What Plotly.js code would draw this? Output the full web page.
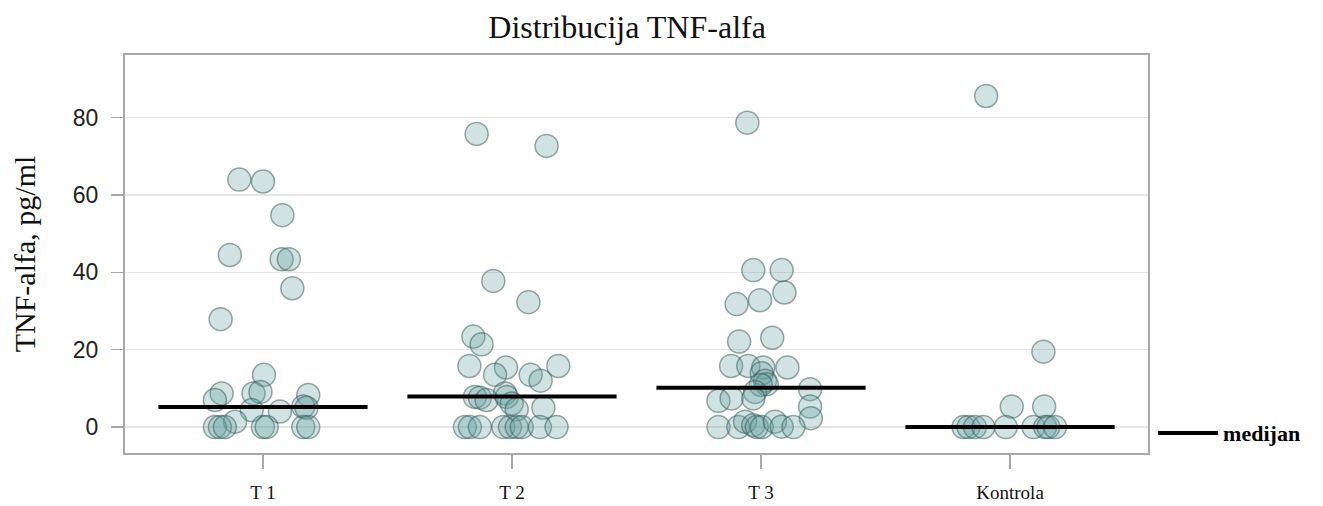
<!DOCTYPE html>
<html>
<head>
<meta charset="utf-8">
<script src="https://cdn.plot.ly/plotly-3.0.1.min.js"></script>
<style>html,body{margin:0;padding:0;background:#fff;}#chart{width:1323px;height:506px;}</style>
</head>
<body>
<div id="chart"></div>
<script>
// Categories and tick labels
var categories = ["T 1", "T 2", "T 3", "Kontrola"];

// TNF-alfa values (pg/ml), with horizontal jitter offsets
var t1Values = [64.0, 63.5, 54.8, 44.5, 43.4, 43.4, 35.9, 27.9, 13.5, 8.7, 7.0, 8.7, 9.1, 8.3, 4.4, 4.0, 5.3, 5.0, 1.4, 0, 0, 0, 0, 0, 0, 0];
var t1Jitter = [-0.095, 0.0, 0.078, -0.133, 0.075, 0.104, 0.118, -0.17, 0.004, -0.166, -0.193, -0.038, -0.01, 0.182, -0.045, 0.068, 0.162, 0.175, -0.112, -0.193, -0.173, -0.153, 0.0, 0.015, 0.162, 0.182];

var t2Values = [75.8, 72.7, 37.8, 32.3, 23.4, 21.4, 15.8, 15.4, 15.8, 13.5, 13.5, 12.0, 7.8, 7.6, 7.0, 8.7, 7.8, 6.1, 4.6, 5.0, 0, 0, 0, 0, 0, 0, 0, 0, 0];
var t2Jitter = [-0.142, 0.139, -0.075, 0.066, -0.155, -0.122, -0.171, -0.024, 0.186, -0.068, 0.075, 0.115, -0.149, -0.129, -0.102, -0.028, -0.021, -0.001, 0.019, 0.126, -0.189, -0.169, -0.129, -0.035, -0.008, 0.019, 0.039, 0.112, 0.179];

var t3Values = [78.7, 40.6, 40.6, 34.8, 31.8, 32.8, 22.1, 23.1, 15.8, 15.8, 15.4, 15.4, 13.9, 12.0, 11.1, 10.9, 9.8, 9.1, 6.8, 7.4, 7.4, 5.3, 2.3, 0, 0, 1.4, 0.5, 0, 0, 1.4, 0.1, 0];
var t3Jitter = [-0.055, -0.031, 0.083, 0.094, -0.098, -0.004, -0.088, 0.045, -0.12, -0.051, 0.009, 0.106, 0.003, 0.016, 0.023, -0.001, 0.197, -0.024, -0.171, -0.118, -0.031, 0.197, 0.2, -0.171, -0.091, -0.064, -0.031, -0.017, 0.003, 0.056, 0.083, 0.13];

var kontrolaValues = [85.6, 19.5, 5.3, 5.3, 0, 0, 0, 0, 0, 0, 0, 0, 0];
var kontrolaJitter = [-0.096, 0.134, 0.007, 0.137, -0.187, -0.167, -0.141, -0.107, -0.017, 0.094, 0.141, 0.154, 0.181];

// Medians
var medians = [5.2, 7.9, 10.2, 0];

var groups = [
  {values: t1Values, jitter: t1Jitter},
  {values: t2Values, jitter: t2Jitter},
  {values: t3Values, jitter: t3Jitter},
  {values: kontrolaValues, jitter: kontrolaJitter}
];

var px = [], py = [];
groups.forEach(function (g, i) {
  g.values.forEach(function (v, j) {
    px.push(i + g.jitter[j]);
    py.push(v);
  });
});

var halfWidth = 0.42;
var mx = [], my = [];
medians.forEach(function (m, i) {
  mx.push(i - halfWidth, i + halfWidth, null);
  my.push(m, m, null);
});

var traces = [
  {
    type: "scatter", mode: "markers", x: px, y: py, showlegend: false, hoverinfo: "y",
    marker: {size: 23, color: "rgba(100,160,158,0.30)", line: {color: "rgba(50,85,85,0.5)", width: 1.5}}
  },
  {
    type: "scatter", mode: "lines", x: mx, y: my, name: "medijan", showlegend: true,
    line: {color: "#000", width: 4}, hoverinfo: "skip"
  }
];

var layout = {
  width: 1323, height: 506,
  margin: {l: 125, r: 175, t: 55, b: 53},
  paper_bgcolor: "#fff", plot_bgcolor: "#fff",
  title: {
    text: "Distribucija TNF-alfa",
    font: {family: "Liberation Serif, Times New Roman, serif", size: 32, color: "#111"},
    x: 0.474, xanchor: "center", y: 0.947, yanchor: "middle", yref: "container"
  },
  xaxis: {
    range: [-0.554, 3.554],
    tickvals: [0, 1, 2, 3], ticktext: categories,
    tickfont: {family: "Liberation Serif, Times New Roman, serif", size: 19, color: "#111"},
    ticks: "outside", ticklen: 14, tickcolor: "#a8a8a8", tickwidth: 1.5,
    ticklabelstandoff: 7,
    showgrid: false, zeroline: false,
    showline: true, linecolor: "#a8a8a8", linewidth: 2, mirror: true
  },
  yaxis: {
    range: [-6.7, 96.2],
    tickvals: [0, 20, 40, 60, 80],
    tickfont: {family: "Liberation Sans, Arial, sans-serif", size: 23, color: "#222"},
    ticks: "outside", ticklen: 12, tickcolor: "#a8a8a8", tickwidth: 1.5,
    ticklabelstandoff: 8,
    showgrid: true, gridcolor: "#e6e6e6", gridwidth: 1.5, zeroline: false,
    showline: true, linecolor: "#a8a8a8", linewidth: 2, mirror: true,
    title: {text: "TNF-alfa, pg/ml", standoff: 28,
      font: {family: "Liberation Serif, Times New Roman, serif", size: 30, color: "#111"}}
  },
  legend: {
    x: 1.005, xanchor: "left", y: 0.05, yanchor: "middle",
    bgcolor: "rgba(0,0,0,0)", borderwidth: 0,
    font: {family: "Liberation Serif, Times New Roman, serif", size: 22, color: "#000", weight: "bold"},
    itemwidth: 60
  },
  showlegend: true
};

Plotly.newPlot("chart", traces, layout, {displayModeBar: false, staticPlot: true});
</script>
</body>
</html>
